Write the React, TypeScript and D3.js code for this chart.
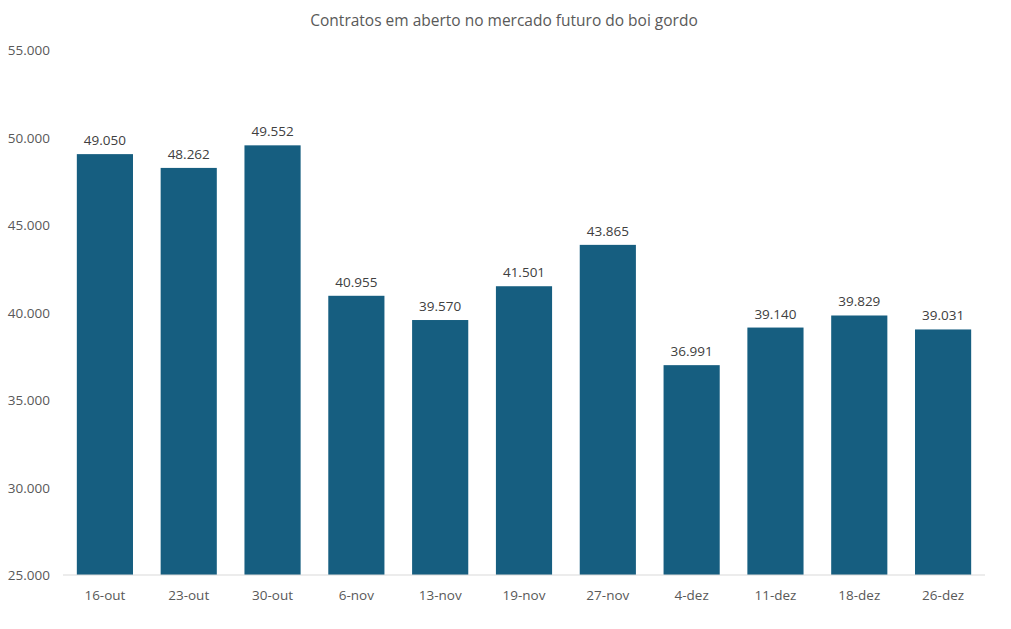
import React from "react";
import * as d3 from "d3";

const categories = ["16-out", "23-out", "30-out", "6-nov", "13-nov", "19-nov", "27-nov", "4-dez", "11-dez", "18-dez", "26-dez"];
const values = [49050, 48262, 49552, 40955, 39570, 41501, 43865, 36991, 39140, 39829, 39031];
const yTicks = [25000, 30000, 35000, 40000, 45000, 50000, 55000];
const title = "Contratos em aberto no mercado futuro do boi gordo";

const W = 1011;
const H = 629;
const FONT = "'Open Sans', 'Noto Sans', sans-serif";

const fmt = (v: number) => d3.format(",")(v).replace(/,/g, ".");

export default function App() {
  const x = d3.scaleBand<string>().domain(categories).range([63, 985]).paddingInner(0.33).paddingOuter(0.165);
  const y = d3.scaleLinear().domain([25000, 55000]).range([575, 50]);
  return (
    <svg width={W} height={H} style={{ position: "absolute", left: 0, top: 0, background: "#fff" }}>
      <text x={504} y={26} textAnchor="middle" fontFamily={FONT} fontSize={15.5} fill="#595959">{title}</text>
      {yTicks.map((t) => (
        <text key={t} x={50} y={y(t) + 5} textAnchor="end" fontFamily={FONT} fontSize={13.5} fill="#595959">{fmt(t)}</text>
      ))}
      {categories.map((c, i) => (
        <g key={c}>
          <rect x={x(c)} y={y(values[i])} width={x.bandwidth()} height={y(25000) - y(values[i])} fill="#165E80" />
          <text x={(x(c) as number) + x.bandwidth() / 2} y={y(values[i]) - 9} textAnchor="middle" fontFamily={FONT} fontSize={13.5} fill="#404040">{fmt(values[i])}</text>
          <text x={(x(c) as number) + x.bandwidth() / 2} y={600} textAnchor="middle" fontFamily={FONT} fontSize={13.5} fill="#595959">{c}</text>
        </g>
      ))}
      <line x1={63} x2={985} y1={575} y2={575} stroke="#D9D9D9" strokeWidth={1} />
    </svg>
  );
}
